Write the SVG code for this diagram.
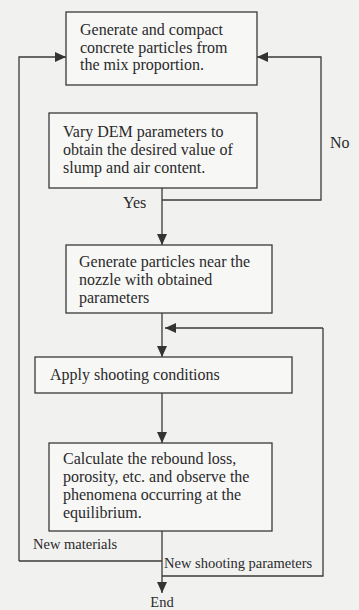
<svg xmlns="http://www.w3.org/2000/svg" width="359" height="610" viewBox="0 0 359 610">
<defs>
<style>
.bg{fill:#f1f1f0}
.box{fill:#f7f7f6;stroke:#3a3a3a;stroke-width:1.3}
.t{font-family:"Liberation Serif","Times New Roman",serif;font-size:16px;fill:#2a2a2a}
.s{font-size:14.5px}
.c{fill:none;stroke:#3a3a3a;stroke-width:1.3}
</style>
<marker id="ah" markerUnits="userSpaceOnUse" markerWidth="12" markerHeight="10" refX="11" refY="5" orient="auto">
<path d="M0,0 L11,5 L0,10 z" fill="#333"/>
</marker>
</defs>
<rect class="bg" x="0" y="0" width="359" height="610"/>
<g id="connectors">
<path class="c" d="M19,561 L19,57 L66,57" marker-end="url(#ah)"/>
<path class="c" d="M162,200 L321,200 L321,57 L257,57" marker-end="url(#ah)"/>
<path class="c" d="M162,188 L162,245" marker-end="url(#ah)"/>
<path class="c" d="M162,313 L162,357" marker-end="url(#ah)"/>
<path class="c" d="M323,328 L165,328" marker-end="url(#ah)"/>
<path class="c" d="M162,393 L162,443" marker-end="url(#ah)"/>
<path class="c" d="M162,531 L162,593" marker-end="url(#ah)"/>
<path class="c" d="M162,561 L19,561"/>
<path class="c" d="M162,576 L323,576 L323,328"/>
</g>
<g id="n1">
<rect class="box" x="66" y="12" width="191" height="73"/>
<text class="t" x="80" y="35">Generate and compact</text>
<text class="t" x="80" y="52.5">concrete particles from</text>
<text class="t" x="80" y="70">the mix proportion.</text>
</g>
<g id="n2">
<rect class="box" x="49" y="113" width="208" height="75"/>
<text class="t" x="63" y="137">Vary DEM parameters to</text>
<text class="t" x="63" y="155">obtain the desired value of</text>
<text class="t" x="63" y="173">slump and air content.</text>
</g>
<g id="n3">
<rect class="box" x="66" y="245" width="206" height="68"/>
<text class="t" x="79" y="267">Generate particles near the</text>
<text class="t" x="79" y="285">nozzle with obtained</text>
<text class="t" x="79" y="303">parameters</text>
</g>
<g id="n4">
<rect class="box" x="35" y="357" width="257" height="36"/>
<text class="t" x="50" y="380">Apply shooting conditions</text>
</g>
<g id="n5">
<rect class="box" x="49" y="443" width="223" height="88"/>
<text class="t" x="63" y="464">Calculate the rebound loss,</text>
<text class="t" x="63" y="482">porosity, etc. and observe the</text>
<text class="t" x="63" y="500">phenomena occurring at the</text>
<text class="t" x="63" y="518">equilibrium.</text>
</g>
<g id="labels">
<text class="t" x="330" y="148">No</text>
<text class="t" x="123" y="208">Yes</text>
<text class="t s" x="33" y="549">New materials</text>
<text class="t s" x="164" y="568">New shooting parameters</text>
<text class="t s" x="162" y="607" text-anchor="middle">End</text>
</g>
</svg>
